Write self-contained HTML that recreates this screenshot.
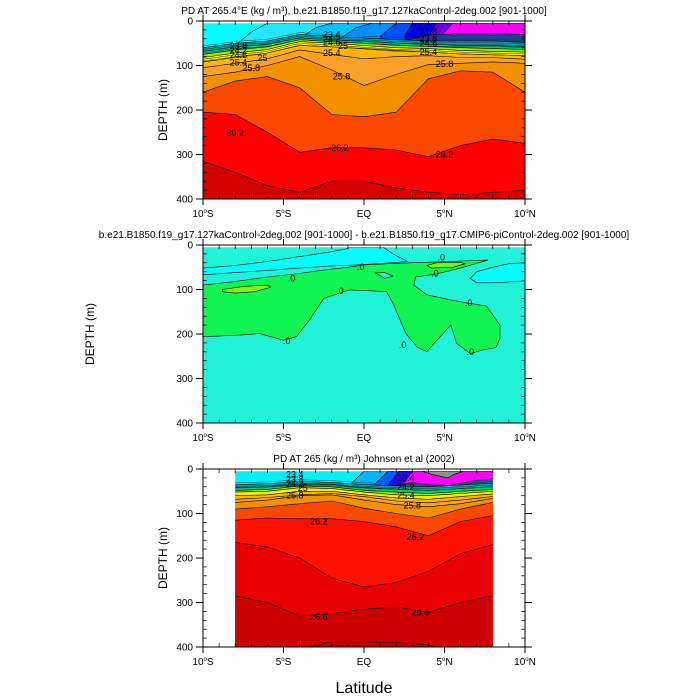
<!DOCTYPE html>
<html><head><meta charset="utf-8"><style>
body{margin:0;background:#fff}
svg{display:block;font-family:"Liberation Sans",sans-serif}
</style></head><body>
<svg id="c" width="700" height="700" viewBox="0 0 700 700"></svg>
<script>
// ---------- Panel 1 data (model PD) ----------
const p1Lat = [-10,-8,-6,-4,-2,0,2,4,6,8,10];
const p1Teal   = [60,50,45,30,35,38,42,45,45,45,48];
const p1Green  = [68,58,52,38,42,45,50,52,55,55,58];
const p1YGreen = [75,65,58,42,46,50,55,57,60,62,64];
const p1Yellow = [82,72,64,46,50,55,60,62,66,68,70];
const p1LOrange= [92,82,72,55,58,62,66,70,74,76,78];
const p1D254   = [105,95,85,65,75,85,80,78,82,82,86];
const p1D258   = [125,115,100,80,110,145,120,98,95,92,95];
const p1D260   = [160,135,125,150,210,215,205,130,112,115,160];
const p1D262   = [205,210,250,295,285,285,290,305,280,265,275];
const p1D264   = [315,340,370,385,360,360,375,385,390,385,380];
// ---------- Panel 2 data (difference) ----------
const p2GreenRing = [[-10,90],[-8,82],[-6,72],[-4,64],[-2.5,56],[-1,50],[0,45],[1.5,42],[2.85,40],[4.5,38],[6,36],[7.7,34],[6,52],[4.5,65],[3.2,72],[3.1,90],[3.9,112],[5.2,122],[6.4,130],[7.6,137],[8.45,180],[8.45,210],[8.2,230],[7.4,236],[6.6,244],[5.75,221],[5.4,180],[4.9,199],[3.9,240],[3.3,229],[2.6,199],[1.8,131],[1.4,105],[0,102],[-0.9,101],[-2.5,120],[-3.4,169],[-4.2,206],[-5,214],[-6.5,199],[-8,203],[-10,206]];
const p2CyanRing = [[-10,52],[-8,46],[-6,37],[-4,26],[-2,15],[-1,8],[-0.9,5],[1.2,5],[1.8,20],[2.7,37],[0,44],[-2,47],[-4,52],[-6,57],[-8,62],[-10,67]];
const p2CyanBlob = [[6.6,75],[7,60],[8,50],[9,42],[10,40],[10,82],[9,83],[8,85],[7,85]];
const p2LimeA = [[-8.8,100],[-7.5,93],[-6,90],[-5.8,95],[-6.8,105],[-8,108],[-8.8,105]];
const p2LimeB = [[3.9,46],[4.5,40],[6,39],[6.3,42],[5.5,50],[4.2,52]];
const p2Hole = [[0.7,63],[1.3,62],[1.8,70],[1.3,75]];
// ---------- Panel 3 data (Johnson et al) ----------
const p3Lat = [-8,-6,-4,-2,0,2,4,6,8];
const p3Teal   = [35,33,28,30,35,38,40,36,32];
const p3Green  = [42,40,34,35,42,45,48,44,40];
const p3YGreen = [48,46,38,40,48,52,55,50,46];
const p3Yellow = [52,50,42,44,52,58,60,55,50];
const p3LOrange= [60,58,50,50,58,65,68,62,56];
const p3D254   = [68,64,58,55,62,72,76,70,62];
const p3D258   = [75,70,60,58,70,80,85,78,66];
const p3D260   = [90,85,78,72,88,100,110,90,75];
const p3D262   = [115,110,112,112,118,130,150,118,105];
const p3D264   = [165,175,200,245,265,255,230,190,170];
const p3D266   = [285,300,330,325,315,310,322,300,285];
const p3D268   = [420,420,405,388,388,390,395,420,420];
// tick labels
const yTicks = [0,100,200,300,400];
const xTicks = [-10,-5,0,5,10];
const xTickLabels = [["10","S"],["5","S"],["EQ",""],["5","N"],["10","N"]];

const NS="http://www.w3.org/2000/svg";
const svg=document.getElementById('c');
function mk(t,a,p){const e=document.createElementNS(NS,t);for(const k in a)e.setAttribute(k,a[k]);(p||svg).appendChild(e);return e;}
const P=[{x:203,y:21,w:322,h:178},{x:203,y:245,w:322,h:178},{x:203,y:469,w:322,h:178}];
function X(p,lat){return p.x+(lat+10)/20*p.w;}
function Y(p,d){return p.y+d/400*p.h;}

function panelGroup(i){
  const p=P[i];
  const cp=mk('clipPath',{id:'cl'+i});
  mk('rect',{x:p.x,y:Y(p,5),width:p.w,height:p.h-Y(p,5)+p.y},cp);
  const g=mk('g',{'clip-path':'url(#cl'+i+')'});
  
  
  return g;
}
function below(g,p,lats,deps,color,name,line){
  let d='M'+X(p,lats[0])+','+Y(p,420);
  for(let k=0;k<lats.length;k++)d+=' L'+X(p,lats[k]).toFixed(1)+','+Y(p,deps[k]).toFixed(1);
  d+=' L'+X(p,lats[lats.length-1])+','+Y(p,420)+' Z';
  const e=mk('path',{d:d,fill:color},g);
  
  
  if(line!==false){
    let l='M'+X(p,lats[0]).toFixed(1)+','+Y(p,deps[0]).toFixed(1);
    for(let k=1;k<lats.length;k++)l+=' L'+X(p,lats[k]).toFixed(1)+','+Y(p,deps[k]).toFixed(1);
    const ln=mk('path',{d:l,fill:'none',stroke:'#000','stroke-width':0.6},g);
    
    
  }
}
function ring(g,p,pts,color,name){
  const d='M'+pts.map(q=>X(p,q[0]).toFixed(1)+','+Y(p,q[1]).toFixed(1)).join(' L')+' Z';
  const e=mk('path',{d:d,fill:color,stroke:'#000','stroke-width':0.6},g);
  
  
}
function shift(arr,dd){return arr.map(v=>v+dd);}
function label(p,lat,d,t){
  const e=mk('text',{x:X(p,lat),y:Y(p,d)+3,'font-size':9,'text-anchor':'middle',fill:'#000'});
  e.textContent=t;
  
  
}

// ---- Panel 1 ----
(function(){
  const p=P[0],g=panelGroup(0);
  mk('rect',{x:p.x,y:p.y,width:p.w,height:p.h,fill:'#00ffff'},g);
  below(g,p,[-8,-7,-6,10],[55,25,5,5],'#22e8ff','surface-band-a');
  below(g,p,[-4,-3,-2,10],[40,15,5,5],'#00c4ff','surface-band-b');
  below(g,p,[-1.5,-0.5,0.5,10],[40,15,5,5],'#0090ff','surface-band-c');
  below(g,p,[1,2,10],[35,5,5],'#0050ff','surface-band-d');
  below(g,p,[2.5,3,10],[35,5,5],'#0000e6','surface-band-e');
  below(g,p,[4,4.5,10],[35,5,5],'#7000e0','surface-band-f');
  below(g,p,[5,5.5,10],[25,5,5],'#ff00ff','surface-band-magenta');
  below(g,p,[3,4,6,8,10],[40,32,28,28,30],'#203c8c','band-navy');
  below(g,p,p1Lat,p1Teal,'#00a8a8','band-teal');
  below(g,p,p1Lat,p1Green,'#00d060','band-green');
  below(g,p,p1Lat,p1YGreen,'#a0e400','band-yellowgreen');
  below(g,p,p1Lat,p1Yellow,'#ffe800','band-yellow');
  below(g,p,p1Lat,p1LOrange,'#ffb400','band-lightorange');
  below(g,p,p1Lat,p1D254,'#f8a028','band-25-4');
  below(g,p,p1Lat,p1D258,'#f39000','band-25-8');
  below(g,p,p1Lat,p1D260,'#fa4800','band-26-0');
  below(g,p,p1Lat,p1D262,'#ff0000','band-26-2');
  below(g,p,p1Lat,p1D264,'#d40000','band-26-4');
  // extra thin contour lines
  [ -4,4,8,12].forEach(dd=>{const a=shift(p1Teal,dd);let l='M'+p1Lat.map((la,k)=>X(p,la).toFixed(1)+','+Y(p,a[k]).toFixed(1)).join(' L');const e=mk('path',{d:l,fill:'none',stroke:'#333','stroke-width':0.5},g);});
  [ 4,8].forEach(dd=>{const a=shift(p1Yellow,dd);let l='M'+p1Lat.map((la,k)=>X(p,la).toFixed(1)+','+Y(p,a[k]).toFixed(1)).join(' L');const e=mk('path',{d:l,fill:'none',stroke:'#333','stroke-width':0.5},g);});
  label(p,-7.8,56,'23.8');label(p,-7.8,66,'24.2');label(p,-7.8,76,'24.6');label(p,-6.3,83,'25');
  label(p,-7.8,93,'25.4');label(p,-7,106,'25.8');label(p,-2,30,'23.4');label(p,-2,40,'24.2');
  label(p,-2,48,'24.6');label(p,-1.3,56,'25');label(p,-2,72,'25.4');label(p,-1.4,125,'25.8');
  label(p,4,24,'21.8');label(p,4,40,'23.8');label(p,4,50,'24.6');label(p,4,70,'25.4');label(p,5,97,'25.8');
  label(p,-8,250,'26.2');label(p,-1.5,285,'26.2');label(p,5,300,'26.2');
})();

// ---- Panel 2 ----
(function(){
  const p=P[1],g=panelGroup(1);
  mk('rect',{x:p.x,y:p.y,width:p.w,height:p.h,fill:'#1ff2d6'},g);
  ring(g,p,p2CyanRing,'#00ffff','cyan-region');
  ring(g,p,p2CyanBlob,'#00ffff','cyan-region-east');
  ring(g,p,p2GreenRing,'#10f552','green-region');
  ring(g,p,p2LimeA,'#7cf500','lime-region-south');
  ring(g,p,p2LimeB,'#7cf500','lime-region-north');
  ring(g,p,p2Hole,'#1ff2d6','hole-region');
  label(p,-4.5,75,'.0');label(p,-0.2,49,'.0');label(p,-1.5,103,'.0');label(p,-4.8,216,'.0');
  label(p,2.4,225,'.0');label(p,4.8,28,'.0');label(p,4.4,64,'.0');label(p,6.5,130,'.0');label(p,6.6,240,'.0');
})();

// ---- Panel 3 ----
(function(){
  const p=P[2],g=panelGroup(2);
  const cp=mk('clipPath',{id:'cl3'});
  mk('rect',{x:X(p,-8),y:Y(p,5),width:X(p,8)-X(p,-8),height:p.h},cp);
  const h=mk('g',{'clip-path':'url(#cl3)'},g);
  
  
  mk('rect',{x:p.x,y:p.y,width:p.w,height:p.h,fill:'#00f0ff'},h);
  below(h,p,[-1,0,8],[40,5,5],'#00b8ff','surface-band-b');
  below(h,p,[0.5,1.5,8],[40,5,5],'#0060ff','surface-band-c');
  below(h,p,[1.5,2.2,8],[35,5,5],'#3000ff','surface-band-d');
  below(h,p,[2.5,3,8],[30,5,5],'#ff00ff','surface-band-magenta');
  ring(h,p,[[3.6,5],[4.2,12],[5.2,20],[5.6,12],[6.2,5]],'#909090','gray-patch');
  below(h,p,[1.8,3,4,5,6,7,8],[40,30,35,38,32,25,22],'#205a90','band-navy');
  below(h,p,p3Lat,p3Teal,'#00a8a8','band-teal');
  below(h,p,p3Lat,p3Green,'#00d060','band-green');
  below(h,p,p3Lat,p3YGreen,'#a0e400','band-yellowgreen');
  below(h,p,p3Lat,p3Yellow,'#ffe800','band-yellow');
  below(h,p,p3Lat,p3LOrange,'#ffb400','band-lightorange');
  below(h,p,p3Lat,p3D254,'#f8a028','band-25-4');
  below(h,p,p3Lat,p3D258,'#f39000','band-25-8');
  below(h,p,p3Lat,p3D260,'#fa4800','band-26-0');
  below(h,p,p3Lat,p3D262,'#ff1000','band-26-2');
  below(h,p,p3Lat,p3D264,'#e80000','band-26-4');
  below(h,p,p3Lat,p3D266,'#cc0000','band-26-6');
  below(h,p,p3Lat,p3D268,'#bb0000','band-26-8');
  [-4,4,8].forEach(dd=>{const a=shift(p3Teal,dd);let l='M'+p3Lat.map((la,k)=>X(p,la).toFixed(1)+','+Y(p,a[k]).toFixed(1)).join(' L');const e=mk('path',{d:l,fill:'none',stroke:'#333','stroke-width':0.5},h);});
  label(p,-4.3,12,'23.4');label(p,-4.3,24,'23.8');label(p,-4.3,34,'24.2');label(p,-3.8,43,'25');
  label(p,-4.3,60,'25.8');label(p,-2.8,118,'26.2');label(p,2.6,20,'23.4');label(p,2.6,40,'24.2');
  label(p,2.6,60,'25.4');label(p,3,82,'25.8');label(p,3.2,153,'26.2');label(p,-2.8,333,'26.6');label(p,3.5,323,'26.6');
})();

// ---- axes ----
const titles=['PD AT 265.4\u00b0E (kg / m\u00b3), b.e21.B1850.f19_g17.127kaControl-2deg.002 [901-1000]',
 'b.e21.B1850.f19_g17.127kaControl-2deg.002 [901-1000] - b.e21.B1850.f19_g17.CMIP6-piControl-2deg.002 [901-1000]',
 'PD AT 265 (kg / m\u00b3) Johnson et al (2002)'];
P.forEach((p,i)=>{
  const ax=mk('g',{});
  
  
  mk('rect',{x:p.x,y:p.y,width:p.w,height:p.h,fill:'none',stroke:'#000','stroke-width':1},ax);
  yTicks.forEach(v=>{const y=Y(p,v);
    mk('line',{x1:p.x-7,x2:p.x,y1:y,y2:y,stroke:'#000'},ax);
    mk('line',{x1:p.x+p.w,x2:p.x+p.w+7,y1:y,y2:y,stroke:'#000'},ax);
    const t=mk('text',{x:p.x-10,y:y+3.5,'font-size':10,'text-anchor':'end'},ax);t.textContent=v;
    });
  for(let v=20;v<400;v+=20){if(v%100===0)continue;const y=Y(p,v);
    mk('line',{x1:p.x,x2:p.x+4,y1:y,y2:y,stroke:'#000','stroke-width':0.7},ax);
    mk('line',{x1:p.x+p.w-4,x2:p.x+p.w,y1:y,y2:y,stroke:'#000','stroke-width':0.7},ax);}
  xTicks.forEach((v,k)=>{const x=X(p,v);
    mk('line',{x1:x,x2:x,y1:p.y+p.h,y2:p.y+p.h+6,stroke:'#000'},ax);
    mk('line',{x1:x,x2:x,y1:p.y-6,y2:p.y,stroke:'#000'},ax);
    const t=mk('text',{x:x,y:p.y+p.h+18,'font-size':10,'text-anchor':'middle'},ax);
    
    const L=xTickLabels[k];
    if(L[1]){t.appendChild(document.createTextNode(L[0]));const s=mk('tspan',{'font-size':6,dy:-4},t);s.textContent='o';const s2=mk('tspan',{dy:4},t);s2.textContent=L[1];}
    else t.textContent=L[0];});
  for(let v=-9;v<10;v++){if(v%5===0)continue;const x=X(p,v);
    mk('line',{x1:x,x2:x,y1:p.y+p.h-4,y2:p.y+p.h,stroke:'#000','stroke-width':0.7},ax);
    mk('line',{x1:x,x2:x,y1:p.y,y2:p.y+4,stroke:'#000','stroke-width':0.7},ax);}
  const tt=mk('text',{x:364,y:p.y-7,'font-size':10,'text-anchor':'middle'},ax);tt.textContent=titles[i];
  
});
function ylab(x,y,name){const t=mk('text',{x:x,y:y,'font-size':12,'text-anchor':'middle',transform:'rotate(-90 '+x+' '+y+')'});t.textContent='DEPTH (m)';
  }
ylab(167,110,'panel-1-y-axis-title');ylab(94,334,'panel-2-y-axis-title');ylab(167,558,'panel-3-y-axis-title');
const xl=mk('text',{x:364,y:693,'font-size':16,'text-anchor':'middle'});xl.textContent='Latitude';

</script>
</body></html>
